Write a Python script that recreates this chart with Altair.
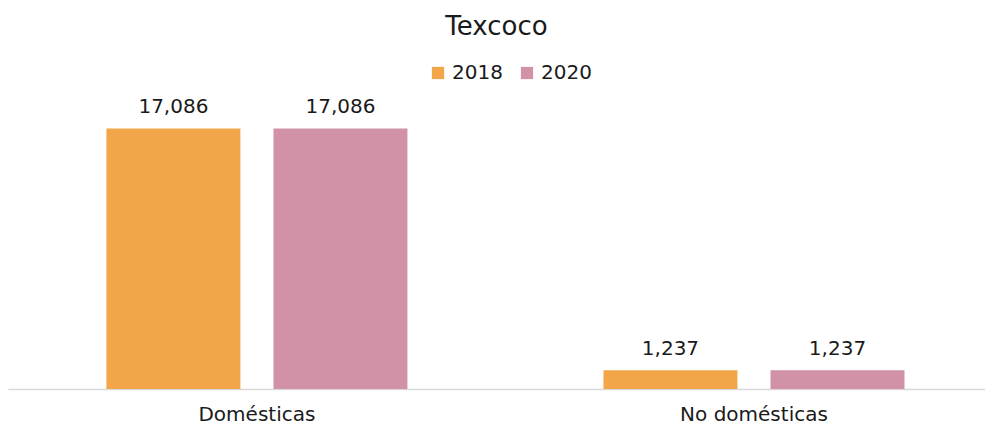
import altair as alt
import pandas as pd

categories = ["Domésticas", "No domésticas"]
years = ["2018", "2020"]
values_2018 = [17086, 1237]
values_2020 = [17086, 1237]
colors = ["#F3A549", "#D191A6"]

rows = []
for i, c in enumerate(categories):
    rows.append({"cat": c, "year": years[0], "value": values_2018[i]})
    rows.append({"cat": c, "year": years[1], "value": values_2020[i]})
df = pd.DataFrame(rows)

FONT = "DejaVu Sans"

x = alt.X("cat:N", sort=categories, title=None,
          scale=alt.Scale(paddingInner=0.3944, paddingOuter=0.18, align=0.55),
          axis=alt.Axis(labelAngle=0, labelFont=FONT, labelFontSize=20, labelColor="#1a1a1a",
                        domainColor="#d9d9d9", domainWidth=1.5, ticks=False, labelPadding=15))
xo = alt.XOffset("year:N", sort=years, scale=alt.Scale(paddingInner=0.198, paddingOuter=0))
y = alt.Y("value:Q", scale=alt.Scale(domain=[0, 20000]), axis=None)

bars = alt.Chart(df).mark_bar().encode(
    x=x, xOffset=xo, y=y,
    color=alt.Color("year:N", sort=years, scale=alt.Scale(domain=years, range=colors),
                    legend=alt.Legend(title=None, orient="none", legendX=420, legendY=-21,
                                      direction="horizontal", symbolType="square", symbolSize=150,
                                      symbolStrokeWidth=0, labelFont=FONT, labelFontSize=20,
                                      labelColor="#1a1a1a", columnPadding=14, labelOffset=4))
)

labels = alt.Chart(df).mark_text(font=FONT, fontSize=20, color="#1a1a1a", baseline="alphabetic", dy=-15).encode(
    x=x, xOffset=xo, y=y, text=alt.Text("value:Q", format=",")
)

chart = alt.layer(bars, labels).properties(
    width=977, height=305,
    title=alt.TitleParams("Texcoco", font=FONT, fontSize=26, fontWeight="normal", color="#1a1a1a",
                          anchor="middle", offset=23),
    autosize=alt.AutoSizeParams(type="none"),
    padding={"left": 0, "right": 0, "top": 76, "bottom": 40},
).configure_view(stroke=None)

chart.save("out.html", embed_options={"renderer": "svg", "actions": False})
